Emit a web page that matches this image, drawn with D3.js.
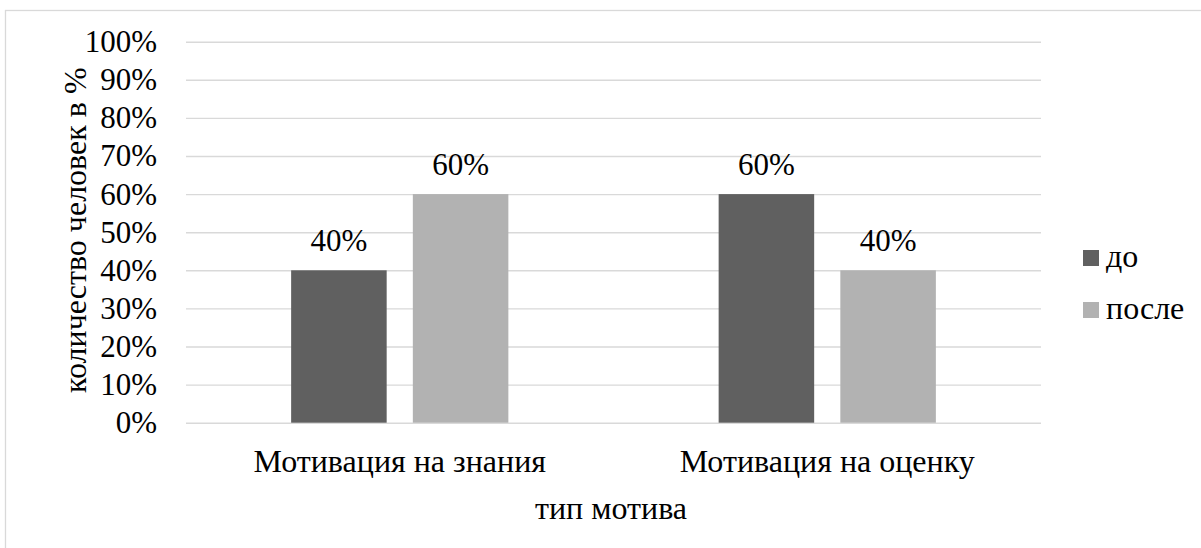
<!DOCTYPE html>
<html>
<head>
<meta charset="utf-8">
<script src="https://cdn.jsdelivr.net/npm/d3@7"></script>
<style>
    body { margin: 0; background: #fff; }
    svg text { font-family: "Liberation Serif", "Tinos", "Times New Roman", "DejaVu Serif", serif; fill: #000; }
</style>
</head>
<body>
<svg></svg>
<script>
(() => {
    const categories = ["Мотивация на знания", "Мотивация на оценку"];
    const series = ["до", "после"];
    const valuesBefore = [0.4, 0.6];
    const valuesAfter = [0.6, 0.4];
    const yTicks = [0, 0.1, 0.2, 0.3, 0.4, 0.5, 0.6, 0.7, 0.8, 0.9, 1];
    const colors = ["#606060", "#b2b2b2"];

    const W = 1201, H = 548;
    const fontSize = 32,
        tickFont = 31;
    const fontStack = "'Liberation Serif', 'Tinos', 'Times New Roman', 'DejaVu Serif', serif";
    // plot area
    const margin = {"top": 41.7, "left": 186},
        width = 855,
        height = 381;

    const svg = d3.select("svg")
        .attr("width", W)
        .attr("height", H)
        .style("font-family", fontStack);

    // chart border (runs off the right and bottom edge)
    svg.append("rect")
        .attr("x", 5.5)
        .attr("y", 10.5)
        .attr("width", 1300)
        .attr("height", 700)
        .attr("fill", "none")
        .attr("stroke", "#d9d9d9")
        .attr("stroke-width", 1.3);

    const g = svg.append("g")
        .attr("transform", `translate(${margin.left}, ${margin.top})`);

    const x0 = d3.scaleBand().domain(categories).range([0, width]);
    const x1 = d3.scaleBand().domain(series).range([0, x0.bandwidth()])
        .paddingInner(0.215).paddingOuter(0.864);
    const y = d3.scaleLinear().domain([0, 1]).range([height, 0]);

    // gridlines + tick labels
    const yAxis = d3.axisLeft(y)
        .tickValues(yTicks)
        .tickFormat(d3.format(".0%"))
        .tickSize(-width)
        .tickPadding(29);
    g.append("g")
        .attr("class", "y axis")
        .call(yAxis)
        .attr("font-family", null)
        .attr("font-size", null)
        .call(a => a.select(".domain").remove())
        .call(a => a.selectAll("line").attr("stroke", "#d9d9d9").attr("stroke-width", 1.4))
        .call(a => a.selectAll("text")
            .style("font-size", tickFont + "px")
            .style("font-family", fontStack)
            .attr("fill", "#000"));

    const rows = categories.map((c, i) => ({
        "cat": c,
        "vals": [valuesBefore[i], valuesAfter[i]]
    }));

    const groups = g.selectAll(".grp")
        .data(rows)
        .enter().append("g")
        .attr("class", "grp")
        .attr("transform", d => `translate(${x0(d.cat)}, 0)`);

    groups.selectAll("rect")
        .data(d => d.vals.map((v, j) => ({"s": series[j], "v": v, "j": j})))
        .enter().append("rect")
        .attr("x", d => x1(d.s))
        .attr("y", d => y(d.v))
        .attr("width", x1.bandwidth())
        .attr("height", d => height - y(d.v))
        .attr("fill", d => colors[d.j]);

    // data labels
    groups.selectAll(".lbl")
        .data(d => d.vals.map((v, j) => ({"s": series[j], "v": v})))
        .enter().append("text")
        .attr("class", "lbl")
        .attr("x", d => x1(d.s) + x1.bandwidth() / 2)
        .attr("y", d => y(d.v) - 19)
        .attr("text-anchor", "middle")
        .style("font-size", tickFont + "px")
        .text(d => d3.format(".0%")(d.v));

    // category labels
    g.selectAll(".cat")
        .data(categories)
        .enter().append("text")
        .attr("class", "cat")
        .attr("x", d => x0(d) + x0.bandwidth() / 2)
        .attr("y", height + 49)
        .attr("text-anchor", "middle")
        .style("font-size", fontSize + "px")
        .text(d => d);

    // axis titles
    svg.append("text")
        .attr("x", 611)
        .attr("y", 519)
        .attr("text-anchor", "middle")
        .style("font-size", fontSize + "px")
        .text("тип мотива");

    svg.append("text")
        .attr("transform", `translate(86, ${margin.top + height / 2 - 2}) rotate(-90)`)
        .attr("text-anchor", "middle")
        .style("font-size", fontSize + "px")
        .text("количество человек в %");

    // legend
    const legend = svg.append("g")
        .attr("transform", "translate(1083, 250)");
    const li = legend.selectAll(".li")
        .data(series)
        .enter().append("g")
        .attr("transform", (d, i) => `translate(0, ${i * 52})`);
    li.append("rect")
        .attr("width", 16)
        .attr("height", 16)
        .attr("fill", (d, i) => colors[i]);
    li.append("text")
        .attr("x", 23)
        .attr("y", 17)
        .style("font-size", fontSize + "px")
        .text(d => d);
})();
</script>
</body>
</html>
